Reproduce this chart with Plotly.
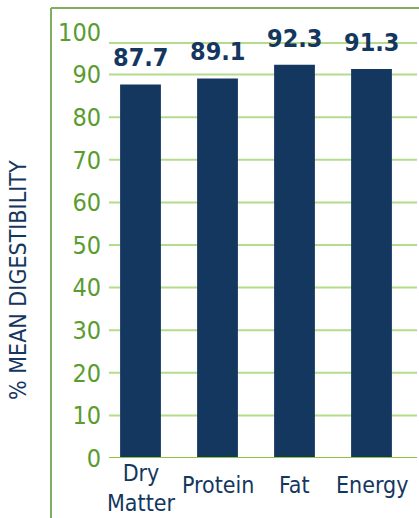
import plotly.graph_objects as go

categories = ["Dry<br>Matter", "Protein", "Fat", "Energy"]
values = [87.7, 89.1, 92.3, 91.3]
value_labels = ["87.7", "89.1", "92.3", "91.3"]
y_ticks = [0, 10, 20, 30, 40, 50, 60, 70, 80, 90, 100]
grid_values = [10, 20, 30, 40, 50, 60, 70, 80, 90, 97.4]

NAVY = "#14375f"
GREEN_TXT = "#5a9c30"
GRID = "#b4dc8c"
ZERO = "#8cc63f"
FRAME = "#7fae5f"
FONT = "DejaVu Sans Condensed, Roboto, sans-serif"

W, H = 419, 518
ML, MR, MT, MB = 102, 9, 32, 60
PW, PH = W - ML - MR, H - MT - MB

def px_x(p):
    return (p - ML) / PW

def px_y(p):
    return (H - MB - p) / PH

fig = go.Figure(go.Bar(
    x=categories, y=values, marker_color=NAVY, marker_line_width=0,
    hoverinfo="skip",
))

for c, v, t in zip(categories, values, value_labels):
    fig.add_annotation(x=c, y=v, text="<b>" + t + "</b>", showarrow=False, yanchor="bottom",
                       yshift=10, font=dict(family=FONT, size=25, color=NAVY),
                       xref="x", yref="y")

for c in categories:
    fig.add_annotation(x=c, y=px_y(488 if "<br>" in c else 485), text=c, showarrow=False,
                       xref="x", yref="paper", yanchor="middle", borderpad=0,
                       font=dict(family=FONT, size=23, color=NAVY))

shapes = []
for g in grid_values:
    shapes.append(dict(type="line", xref="paper", yref="y", x0=px_x(109), x1=px_x(417),
                       y0=g, y1=g, line=dict(color=GRID, width=2), layer="below"))
shapes.append(dict(type="line", xref="paper", yref="y", x0=px_x(109), x1=px_x(417),
                   y0=0, y1=0, line=dict(color=ZERO, width=2), layer="above"))
# frame
shapes.append(dict(type="line", xref="paper", yref="paper", x0=px_x(51), x1=px_x(51),
                   y0=px_y(8), y1=px_y(520), line=dict(color=FRAME, width=2)))
shapes.append(dict(type="line", xref="paper", yref="paper", x0=px_x(51), x1=px_x(421),
                   y0=px_y(8), y1=px_y(8), line=dict(color=FRAME, width=2)))

fig.add_annotation(text="% MEAN DIGESTIBILITY", textangle=-90, showarrow=False,
                   xref="paper", yref="paper", x=px_x(18), y=px_y(280),
                   xanchor="center", yanchor="middle",
                   font=dict(family=FONT, size=23, color=NAVY))

fig.update_layout(
    width=W, height=H, margin=dict(l=ML, r=MR, t=MT, b=MB),
    paper_bgcolor="white", plot_bgcolor="white",
    bargap=0.47, showlegend=False, shapes=shapes,
    xaxis=dict(showticklabels=False, showgrid=False, automargin=False,
               zeroline=False, showline=False, ticks=""),
    yaxis=dict(range=[0, 100], tickvals=y_ticks, showgrid=False, zeroline=False,
               showline=False, ticks="", automargin=False,
               tickfont=dict(family=FONT, size=25, color=GREEN_TXT)),
)

fig.write_html("out.html")
